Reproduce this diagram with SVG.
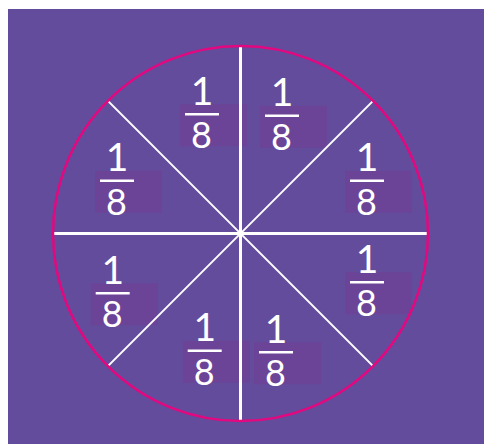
<svg xmlns="http://www.w3.org/2000/svg" width="484" height="444" viewBox="0 0 484 444">
  <style>
    .box { fill: #6C4497; }
    .num { font-family: Lato, "Open Sans", "DejaVu Sans", sans-serif; fill: #FFFFFF; text-anchor: middle; }
    .n1 { font-size: 39px; }
    .n8 { font-size: 36px; }
    .bar { stroke: #FFFFFF; stroke-width: 2.5; }
    .div { stroke: #FFFFFF; fill: none; }
    .hv { stroke-width: 3; }
    .dg { stroke-width: 2; }
  </style>
  <rect x="8" y="9" width="476" height="435" fill="#634C9C"/>
  <g id="boxes">
    <rect class="box" x="180" y="104.3" width="67" height="42"/>
    <rect class="box" x="260" y="105.7" width="67" height="42"/>
    <rect class="box" x="95" y="170.7" width="67" height="42"/>
    <rect class="box" x="345" y="170.7" width="67" height="42"/>
    <rect class="box" x="90.7" y="283.3" width="67" height="42"/>
    <rect class="box" x="345" y="272.3" width="67" height="42"/>
    <rect class="box" x="182.7" y="340.7" width="67" height="42"/>
    <rect class="box" x="254" y="342.3" width="67" height="42"/>
  </g>
  <g id="dividers">
    <line class="div hv" x1="240.5" y1="46" x2="240.5" y2="421"/>
    <line class="div hv" x1="53" y1="233.5" x2="428" y2="233.5"/>
    <line class="div dg" x1="107.9" y1="100.9" x2="373.1" y2="366.1"/>
    <line class="div dg" x1="373.1" y1="100.9" x2="107.9" y2="366.1"/>
  </g>
  <g id="circle">
    <circle cx="240.5" cy="233.5" r="187.5" fill="none" stroke="#E3087F" stroke-width="2.5"/>
  </g>
  <g id="fraction-1" transform="translate(185,114.3)">
    <text class="num n1" x="17" y="-9.5">1</text>
    <line class="bar" x1="0" y1="0" x2="34" y2="0"/>
    <text class="num n8" x="16.5" y="34">8</text>
  </g>
  <g id="fraction-2" transform="translate(265,115.7)">
    <text class="num n1" x="17" y="-9.5">1</text>
    <line class="bar" x1="0" y1="0" x2="34" y2="0"/>
    <text class="num n8" x="16.5" y="34">8</text>
  </g>
  <g id="fraction-3" transform="translate(100,180.7)">
    <text class="num n1" x="17" y="-9.5">1</text>
    <line class="bar" x1="0" y1="0" x2="34" y2="0"/>
    <text class="num n8" x="16.5" y="34">8</text>
  </g>
  <g id="fraction-4" transform="translate(350,180.7)">
    <text class="num n1" x="17" y="-9.5">1</text>
    <line class="bar" x1="0" y1="0" x2="34" y2="0"/>
    <text class="num n8" x="16.5" y="34">8</text>
  </g>
  <g id="fraction-5" transform="translate(95.7,293.3)">
    <text class="num n1" x="17" y="-9.5">1</text>
    <line class="bar" x1="0" y1="0" x2="34" y2="0"/>
    <text class="num n8" x="16.5" y="34">8</text>
  </g>
  <g id="fraction-6" transform="translate(350,282.3)">
    <text class="num n1" x="17" y="-9.5">1</text>
    <line class="bar" x1="0" y1="0" x2="34" y2="0"/>
    <text class="num n8" x="16.5" y="34">8</text>
  </g>
  <g id="fraction-7" transform="translate(187.7,350.7)">
    <text class="num n1" x="17" y="-9.5">1</text>
    <line class="bar" x1="0" y1="0" x2="34" y2="0"/>
    <text class="num n8" x="16.5" y="34">8</text>
  </g>
  <g id="fraction-8" transform="translate(259,352.3)">
    <text class="num n1" x="17" y="-9.5">1</text>
    <line class="bar" x1="0" y1="0" x2="34" y2="0"/>
    <text class="num n8" x="16.5" y="34">8</text>
  </g>
</svg>
